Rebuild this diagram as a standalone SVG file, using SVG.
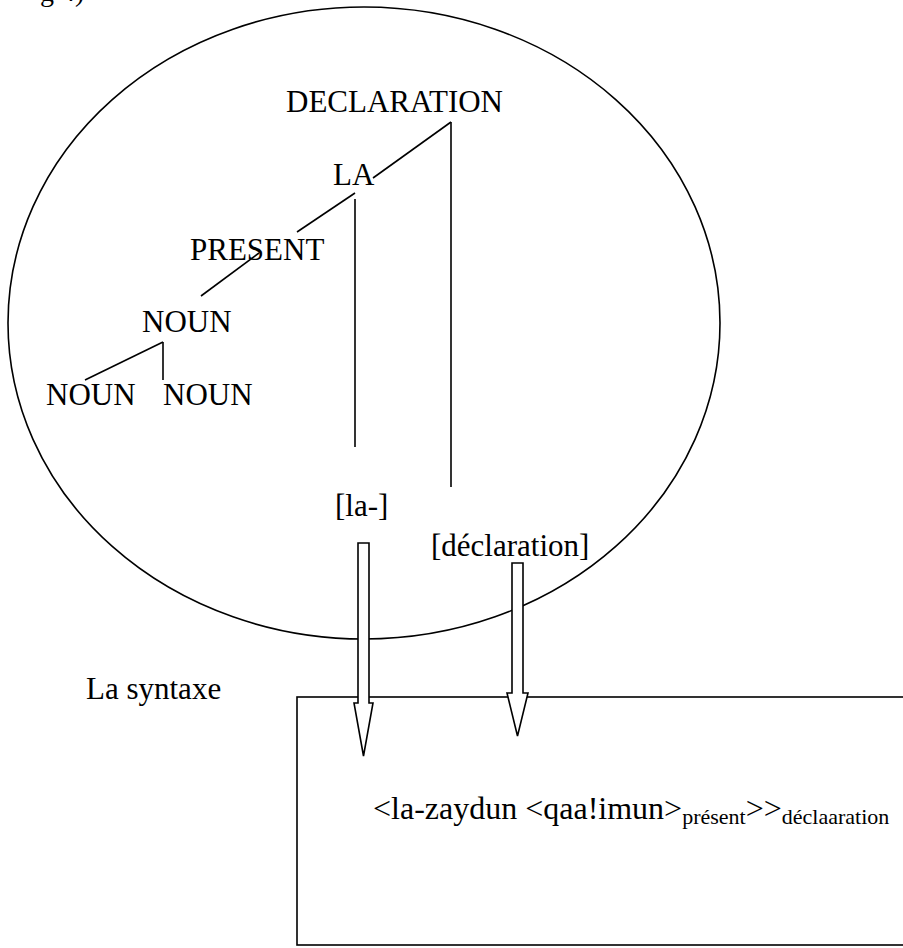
<svg xmlns="http://www.w3.org/2000/svg" width="903" height="948" viewBox="0 0 903 948">
<style>
text{font-family:"Liberation Serif","Times New Roman",serif;fill:#000}
.lbl{font-size:31px}
.f{font-size:32px}
.sub{font-size:22px}
.ln{stroke:#000;stroke-width:1.6;fill:none}
.shape{stroke:#000;stroke-width:1.6;fill:none}
.arr{stroke:#000;stroke-width:1.6;fill:#fff;stroke-linejoin:miter}
</style>
<rect width="903" height="948" fill="#fff"/>
<text x="40" y="1" style="font-size:28px">g 4)</text>
<g id="semantics">
<ellipse class="shape" cx="364" cy="323" rx="356" ry="316"/>
</g>
<g id="syntax-box">
<rect class="shape" x="297" y="697" width="620" height="248"/>
</g>
<g id="connectors">
<line class="ln" x1="451" y1="122" x2="373" y2="178"/>
<line class="ln" x1="451" y1="122" x2="451" y2="487"/>
<line class="ln" x1="355" y1="193" x2="297" y2="232"/>
<line class="ln" x1="355" y1="199" x2="355" y2="447"/>
<line class="ln" x1="259" y1="253" x2="201" y2="296"/>
<line class="ln" x1="163" y1="342" x2="85" y2="380"/>
<line class="ln" x1="163" y1="342" x2="163" y2="380"/>
</g>
<g id="n-declaration"><text class="lbl" x="286" y="112">DECLARATION</text></g>
<g id="n-la"><text class="lbl" x="333" y="185">LA</text></g>
<g id="n-present"><text class="lbl" x="190" y="260">PRESENT</text></g>
<g id="n-noun"><text class="lbl" x="142" y="332">NOUN</text></g>
<g id="n-noun-left"><text class="lbl" x="46" y="405">NOUN</text></g>
<g id="n-noun-right"><text class="lbl" x="163" y="405">NOUN</text></g>
<g id="n-la-form"><text class="lbl" x="335" y="516">[la-]</text></g>
<g id="n-declaration-form"><text class="lbl" x="431" y="556">[déclaration]</text></g>
<g id="n-syntaxe"><text class="lbl" x="86" y="699">La syntaxe</text></g>
<g id="n-formula"><text class="f" x="373" y="819">&lt;la-zaydun &lt;qaa!imun&gt;<tspan class="sub" dy="5">présent</tspan><tspan dy="-5">&gt;&gt;</tspan><tspan class="sub" dy="5">déclaaration</tspan></text></g>
<g id="arrows">
<polygon class="arr" points="358,543 369,543 369,703 373,703 363.5,756 354,703 358,703"/>
<polygon class="arr" points="512,563 523,563 523,693 528,693 517.5,736 507,693 512,693"/>
</g>
</svg>
